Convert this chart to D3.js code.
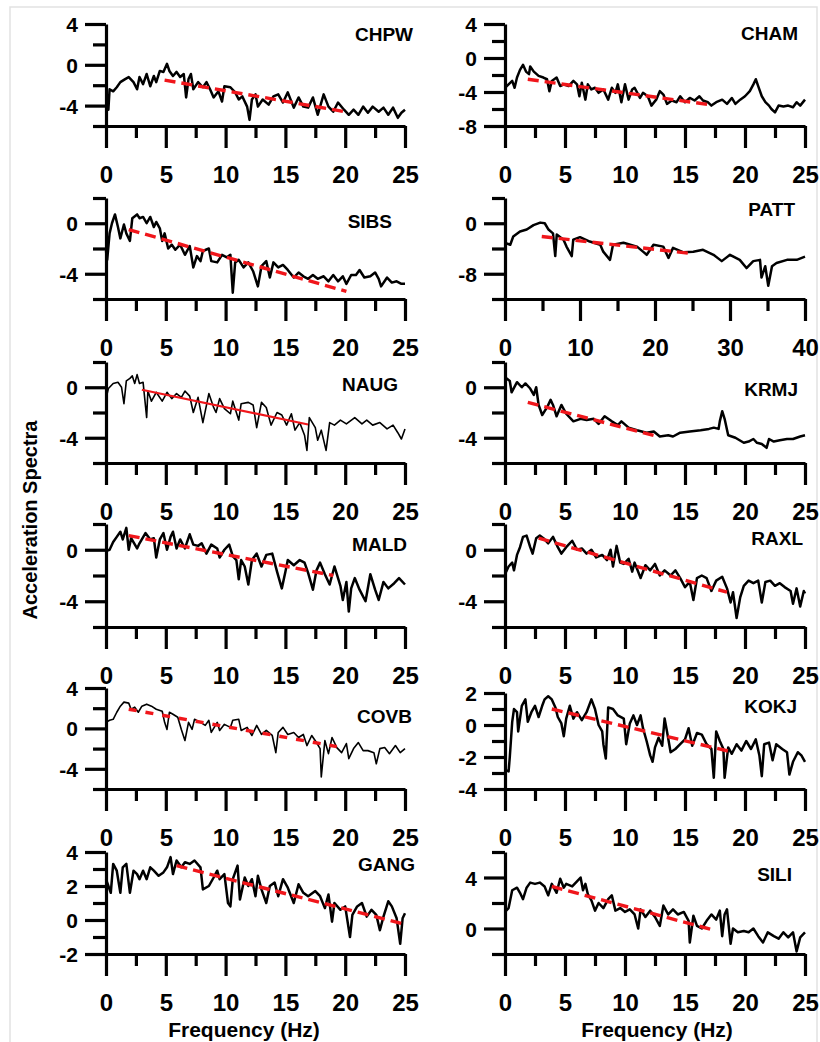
<!DOCTYPE html>
<html>
<head>
<meta charset="utf-8">
<script src="https://cdn.jsdelivr.net/npm/d3@7"></script>
<style>
  body { margin: 0; background: #fff; }
  svg text { font-family: "Liberation Sans", Arial, sans-serif; font-weight: bold; fill: #000; }
</style>
</head>
<body>
<div id="chart"></div>
<script>
// station order: left column then right column, row by row
const stations = ['CHPW', 'CHAM', 'SIBS', 'PATT', 'NAUG', 'KRMJ', 'MALD', 'RAXL', 'COVB', 'KOKJ', 'GANG', 'SILI'];

// spectra: [frequency Hz, log amplitude]
const CHPW = [[0,-3.9],[0.2,-4.4],[0.3,-2.4],[0.6,-2.6],[0.9,-2.2],[1.2,-1.7],[1.6,-1.4],[1.9,-1.2],[2.3,-1.7],[2.6,-2.4],[2.8,-1.2],[3.1,-1.9],[3.4,-0.9],[3.7,-2.1],[4.0,-1.1],[4.2,-1.7],[4.5,-0.6],[4.8,-0.7],[5.1,0.1],[5.3,-0.6],[5.6,-1.1],[5.9,-0.7],[6.2,-1.2],[6.5,-0.9],[6.7,-3.2],[6.9,-1.4],[7.1,-0.9],[7.3,-2.4],[7.7,-1.7],[8.1,-2.2],[8.4,-1.7],[8.7,-2.4],[9.0,-3.2],[9.4,-2.6],[9.7,-3.6],[9.9,-2.1],[10.4,-2.2],[10.8,-2.7],[11.1,-3.4],[11.4,-3.1],[11.8,-4.1],[12.0,-5.4],[12.2,-3.4],[12.5,-2.9],[12.7,-4.1],[13.1,-3.4],[13.6,-3.9],[14.0,-3.1],[14.4,-2.9],[14.8,-3.7],[15.2,-2.7],[15.7,-4.2],[16.1,-3.2],[16.5,-4.1],[16.9,-4.2],[17.3,-3.2],[17.7,-4.9],[18.2,-2.9],[18.6,-4.1],[19.0,-4.6],[19.4,-3.7],[19.9,-4.4],[20.3,-4.9],[20.7,-4.4],[21.1,-4.9],[21.5,-4.1],[21.9,-4.7],[22.3,-4.1],[22.8,-4.6],[23.2,-4.2],[23.6,-4.9],[24.0,-4.2],[24.4,-5.2],[24.7,-4.7],[25,-4.4]];
const CHAM = [[0,-3.5],[0.3,-3.1],[0.6,-2.7],[0.8,-3.5],[1.0,-2.3],[1.25,-1.4],[1.5,-0.8],[1.75,-1.6],[2.0,-1.9],[2.1,-1.0],[2.4,-1.6],[2.8,-2.1],[3.2,-2.3],[3.5,-2.5],[3.7,-3.9],[3.9,-2.7],[4.3,-2.3],[4.6,-3.3],[4.9,-3.1],[5.3,-3.3],[5.7,-2.7],[6.0,-3.1],[6.2,-4.5],[6.4,-2.9],[6.7,-4.9],[6.9,-3.1],[7.2,-3.7],[7.5,-3.5],[7.8,-4.1],[8.2,-3.7],[8.6,-4.9],[8.9,-3.5],[9.2,-4.1],[9.4,-3.1],[9.7,-5.2],[10.0,-3.1],[10.3,-4.9],[10.6,-3.7],[10.8,-3.5],[11.25,-4.7],[11.5,-4.1],[11.9,-4.5],[12.2,-5.6],[12.6,-4.9],[12.9,-3.9],[13.2,-4.3],[13.5,-5.4],[13.9,-5.0],[14.3,-5.2],[14.6,-4.5],[15.0,-5.2],[15.4,-4.7],[15.8,-5.0],[16.2,-4.5],[16.5,-5.0],[16.9,-5.2],[17.2,-5.6],[17.6,-5.2],[18.1,-4.9],[18.5,-5.4],[18.9,-4.7],[19.2,-5.4],[19.6,-4.9],[20.0,-4.5],[20.4,-3.9],[20.7,-3.1],[20.9,-2.5],[21.1,-3.3],[21.4,-4.5],[21.7,-5.2],[22.0,-5.6],[22.2,-6.0],[22.5,-6.4],[22.8,-5.6],[23.2,-5.7],[23.6,-5.6],[24.0,-5.8],[24.3,-5.2],[24.6,-5.6],[25,-4.9]];
const SIBS = [[0,-2.2],[0.1,-2.9],[0.3,-0.8],[0.5,0],[0.75,0.7],[1.0,-0.3],[1.2,-1.2],[1.5,-0.1],[1.7,-0.8],[2.0,-1.4],[2.2,0.4],[2.6,0.7],[2.8,0.4],[3.1,0.5],[3.4,0],[3.7,0.5],[4.0,-0.3],[4.2,0.1],[4.5,-0.4],[4.7,-1.4],[4.9,-0.8],[5.2,-2.0],[5.5,-1.7],[5.8,-2.1],[6.2,-1.7],[6.6,-2.5],[7.0,-1.8],[7.3,-3.5],[7.6,-2.6],[7.9,-3.0],[8.1,-2.2],[8.6,-2.0],[8.8,-3.0],[9.3,-3.1],[9.7,-2.5],[10.1,-2.7],[10.4,-2.5],[10.6,-5.5],[10.8,-3.1],[11.1,-2.9],[11.5,-3.5],[11.9,-3.1],[12.3,-3.8],[12.7,-5.0],[13.0,-3.4],[13.4,-3.0],[13.7,-4.3],[14.0,-3.1],[14.4,-3.5],[14.8,-3.3],[15.2,-3.7],[15.7,-4.3],[16.1,-3.9],[16.5,-4.2],[16.9,-4.4],[17.3,-4.1],[17.7,-4.4],[18.2,-4.2],[18.6,-4.6],[19.0,-4.1],[19.4,-4.6],[19.8,-4.2],[20.1,-4.8],[20.5,-4.1],[20.9,-4.1],[21.2,-3.7],[21.6,-4.3],[22.1,-4.2],[22.5,-3.9],[22.8,-4.4],[23.0,-5.0],[23.5,-4.3],[23.9,-4.7],[24.3,-4.6],[24.7,-4.8],[25,-4.8]];
const PATT = [[0,-3.1],[0.7,-3.4],[1.1,-2.1],[2,-1.3],[2.9,-1.0],[3.8,-0.3],[4.7,0.1],[5.3,0],[5.8,-1.0],[6.4,-1.6],[6.7,-5.2],[6.9,-1.8],[7.8,-2.6],[8.2,-3.7],[8.9,-5.2],[9.1,-2.6],[10,-2.2],[11.3,-2.9],[12.7,-3.4],[13.1,-4.5],[14,-5.8],[14.4,-3.4],[15.8,-3.1],[17.6,-3.7],[18.4,-4.5],[18.9,-5.0],[19.8,-3.4],[21.1,-3.7],[21.8,-5.5],[22.4,-3.9],[23.8,-4.6],[25.1,-4.5],[26.4,-4.2],[27.8,-5.0],[28.9,-6.0],[30,-5.0],[31.3,-5.8],[32.2,-7.1],[33.1,-6.0],[34,-5.8],[34.2,-8.6],[34.7,-6.8],[35.1,-9.9],[35.6,-6.8],[36.2,-6.3],[37.6,-5.8],[38.9,-5.8],[40,-5.3]];
const NAUG = [[0,-0.9],[0.2,-0.1],[0.6,0.3],[1.0,0.4],[1.3,0],[1.5,-1.3],[1.7,0.5],[2.0,0.7],[2.2,0.9],[2.4,0.3],[2.6,1.0],[2.8,0.3],[3.1,0.4],[3.4,-2.4],[3.5,-0.3],[3.8,-1.1],[4.2,-0.4],[4.7,-1.1],[5.1,-0.4],[5.5,-0.9],[5.9,-0.5],[6.3,-0.8],[6.6,-0.3],[7.0,-0.7],[7.3,-2.0],[7.7,-0.8],[8.1,-2.8],[8.6,-0.5],[9.0,-1.6],[9.2,-2.0],[9.5,-0.9],[9.9,-1.7],[10.4,-2.1],[10.6,-1.1],[11.1,-2.6],[11.3,-1.3],[11.9,-1.2],[12.3,-1.4],[12.6,-3.2],[13.0,-1.2],[13.4,-1.6],[13.8,-3.0],[14.3,-2.0],[14.7,-2.2],[15.1,-3.0],[15.5,-2.1],[15.8,-3.4],[16.2,-2.8],[16.6,-3.8],[16.8,-5.0],[17.0,-2.4],[17.5,-3.2],[17.7,-4.2],[18.0,-3.4],[18.4,-5.0],[18.7,-2.8],[19.1,-3.0],[19.6,-2.6],[20.1,-2.9],[20.8,-2.4],[21.4,-2.9],[21.8,-2.6],[22.3,-3.0],[22.9,-2.8],[23.5,-3.3],[24.0,-3.0],[24.4,-3.6],[24.7,-4.1],[25,-3.3]];
const KRMJ = [[0,0.8],[0.4,0.5],[0.55,-0.4],[1.0,0.4],[1.4,0],[1.7,0.3],[2.1,-0.1],[2.4,-0.6],[2.6,0],[2.8,-1.4],[3.1,-2.2],[3.5,-1.6],[3.8,-1.0],[4.0,-1.4],[4.3,-2.3],[4.7,-1.4],[5.1,-2.1],[5.7,-2.7],[6.3,-2.5],[6.8,-2.6],[7.4,-2.5],[7.8,-2.9],[8.3,-2.3],[8.9,-2.7],[9.4,-3.0],[9.7,-2.7],[10.3,-3.2],[11.0,-3.4],[11.8,-3.6],[12.4,-3.5],[12.9,-3.9],[13.6,-3.8],[14.0,-3.9],[14.6,-3.6],[15.4,-3.5],[16.3,-3.4],[17.0,-3.3],[17.4,-3.2],[17.8,-3.3],[17.9,-2.7],[18.1,-1.9],[18.3,-2.5],[18.6,-3.8],[19.2,-4.0],[19.9,-4.4],[20.3,-4.3],[20.7,-4.1],[21.0,-4.4],[21.4,-4.5],[21.8,-4.8],[22.0,-4.1],[22.4,-4.3],[22.9,-4.2],[23.5,-4.1],[24.0,-4.1],[24.6,-3.9],[25,-3.8]];
const MALD = [[0,-0.1],[0.3,0],[0.6,0.6],[0.9,1.0],[1.2,1.4],[1.4,0.8],[1.7,1.7],[1.9,0],[2.1,0.9],[2.6,0.1],[2.8,0.5],[3.3,1.3],[3.7,0.8],[4.0,0.9],[4.2,-0.6],[4.5,0.8],[4.8,1.3],[5.1,0],[5.4,1.0],[5.6,1.4],[5.9,0.1],[6.2,0.8],[6.6,0.1],[7.0,1.2],[7.3,0.4],[7.7,0.3],[8.0,0.5],[8.4,-0.3],[8.8,0.4],[9.3,0.1],[9.5,-0.6],[9.9,0],[10.3,0.4],[10.6,-0.5],[10.9,-0.8],[11.1,-2.3],[11.3,-0.8],[11.6,-1.3],[11.9,-2.7],[12.2,-0.8],[12.6,-0.3],[13.0,-1.3],[13.4,-0.4],[13.9,-0.3],[14.3,-1.7],[14.7,-3.0],[15.0,-1.7],[15.2,-0.8],[15.7,-1.2],[16.2,-0.8],[16.6,-1.0],[16.9,-1.8],[17.3,-3.1],[17.6,-1.6],[17.9,-1.0],[18.3,-1.9],[18.7,-2.7],[19.1,-1.3],[19.6,-2.8],[19.8,-3.9],[20.1,-2.5],[20.3,-4.8],[20.5,-3.0],[20.8,-2.2],[21.2,-3.1],[21.7,-4.0],[22.1,-1.9],[22.5,-3.1],[22.8,-3.9],[23.2,-2.5],[23.6,-3.0],[24.1,-2.6],[24.5,-2.2],[25,-2.7]];
const RAXL = [[0,-1.9],[0.3,-1.3],[0.6,-1.0],[0.75,-1.6],[1.0,-0.4],[1.25,0.2],[1.5,1.0],[1.8,1.1],[2.1,0.2],[2.3,-0.3],[2.6,0.9],[2.9,1.1],[3.2,0.9],[3.6,0.5],[4.0,1.0],[4.4,0.2],[4.7,-0.3],[5.1,0.2],[5.6,0.7],[6.0,0],[6.4,0.1],[6.8,-0.3],[7.2,0],[7.6,-0.6],[8.1,-0.4],[8.5,-0.8],[8.8,0],[9.0,-1.3],[9.3,0.3],[9.6,-1.0],[9.9,-1.1],[10.3,-0.7],[10.6,-1.7],[10.8,-1.0],[11.3,-2.2],[11.7,-1.2],[12.1,-1.6],[12.5,-1.1],[12.9,-2.0],[13.3,-1.6],[13.8,-2.0],[14.2,-1.6],[14.6,-2.2],[15.0,-2.9],[15.4,-2.5],[15.7,-3.9],[16.0,-2.2],[16.4,-2.0],[16.8,-2.2],[17.2,-3.2],[17.6,-2.4],[18.1,-2.1],[18.5,-3.0],[18.8,-4.1],[19.0,-3.3],[19.3,-5.3],[19.6,-3.7],[19.9,-2.8],[20.3,-2.4],[20.7,-2.6],[21.1,-2.4],[21.4,-4.1],[21.7,-2.5],[22.1,-2.4],[22.5,-2.8],[22.9,-2.6],[23.3,-2.9],[23.8,-3.2],[24.0,-4.2],[24.3,-3.0],[24.6,-4.4],[24.9,-3.2],[25,-3.4]];
const COVB = [[0,0.6],[0.3,0.8],[0.6,0.9],[0.9,1.6],[1.2,2.2],[1.5,2.6],[1.9,2.5],[2.1,1.9],[2.4,2.1],[2.7,1.6],[3.0,2.2],[3.4,2.4],[3.8,2.2],[4.2,1.9],[4.7,1.7],[4.9,0.6],[5.1,-0.1],[5.3,1.6],[5.6,1.4],[6.0,1.1],[6.3,-0.1],[6.6,-1.2],[6.9,0.6],[7.2,-0.1],[7.4,0.9],[7.9,0.6],[8.3,0.3],[8.6,0.8],[8.8,-0.4],[9.3,0.6],[9.5,-0.2],[9.9,0.4],[10.4,0.1],[10.6,0.8],[11.1,0.9],[11.3,-0.2],[11.8,0.1],[12.2,-0.7],[12.6,0.3],[13.0,-0.6],[13.4,-0.2],[13.9,-0.7],[14.2,-2.4],[14.4,-0.4],[14.8,0.1],[15.2,-0.6],[15.7,-0.4],[16.1,-0.9],[16.5,-0.6],[16.8,-1.7],[17.2,-0.7],[17.6,-1.4],[17.9,-2.0],[18.0,-4.8],[18.3,-1.2],[18.6,-2.5],[18.9,-0.9],[19.3,-1.9],[19.7,-2.4],[20.1,-1.5],[20.3,-3.0],[20.7,-2.0],[21.1,-1.4],[21.5,-2.2],[21.9,-2.2],[22.4,-2.4],[22.6,-3.5],[22.9,-2.0],[23.3,-1.9],[23.7,-2.5],[24.2,-1.7],[24.6,-2.4],[25,-2.0]];
const KOKJ = [[0,-2.8],[0.3,-2.9],[0.4,-2.0],[0.6,0.2],[0.75,1.0],[1.0,0.8],[1.1,-0.4],[1.4,1.2],[1.7,1.6],[1.9,0.2],[2.2,0.8],[2.5,1.2],[2.8,0.5],[3.1,1.2],[3.3,1.6],[3.6,1.8],[3.9,1.6],[4.2,1.1],[4.4,0.5],[4.7,0.1],[4.9,-0.7],[5.1,0.4],[5.4,1.2],[5.7,0.4],[6.0,0.8],[6.4,0.3],[6.8,0.8],[7.2,1.6],[7.5,1.0],[7.8,0],[8.1,-0.4],[8.2,-1.2],[8.4,-2.1],[8.6,1.1],[9.0,1.0],[9.4,0.6],[9.9,0.4],[10.1,-1.2],[10.4,0.1],[10.7,0.6],[11.0,0],[11.3,0.6],[11.5,-0.2],[11.8,-1.0],[12.1,-1.9],[12.3,-2.3],[12.5,-1.4],[12.8,-0.8],[13.1,-1.3],[13.3,0.4],[13.5,-0.4],[13.8,-1.7],[14.2,-1.5],[14.6,-1.2],[15.0,-0.9],[15.3,-0.2],[15.6,-1.3],[16.0,-0.5],[16.4,-0.6],[16.8,-1.2],[17.2,-1.5],[17.4,-3.3],[17.6,-0.4],[17.9,-1.0],[18.2,-1.5],[18.3,-3.3],[18.6,-1.4],[18.9,-1.8],[19.3,-1.2],[19.7,-1.6],[20.1,-1.0],[20.5,-1.5],[20.9,-0.9],[21.2,-1.9],[21.4,-3.2],[21.6,-1.2],[22.0,-1.1],[22.3,-2.2],[22.6,-1.2],[23.1,-1.5],[23.5,-1.7],[23.7,-3.1],[24.0,-2.3],[24.4,-1.7],[24.7,-1.9],[25,-2.3]];
const GANG = [[0,2.4],[0.2,2.0],[0.4,1.6],[0.6,3.3],[0.9,2.9],[1.2,1.6],[1.4,3.1],[1.7,3.3],[2.0,1.6],[2.3,2.9],[2.6,2.7],[2.8,2.4],[3.1,2.9],[3.4,2.4],[3.7,3.1],[4.0,2.9],[4.4,2.6],[4.8,2.8],[5.1,3.1],[5.4,3.7],[5.6,2.7],[5.9,3.5],[6.3,3.1],[6.6,3.4],[7.0,3.3],[7.4,3.5],[7.9,3.1],[8.1,1.8],[8.6,2.0],[9.0,2.5],[9.3,2.9],[9.5,2.4],[9.9,2.7],[10.2,1.0],[10.4,0.8],[10.6,2.4],[11.0,3.2],[11.2,1.2],[11.6,2.5],[11.9,2.0],[12.2,2.4],[12.5,1.4],[12.7,2.6],[13.0,1.8],[13.4,1.0],[13.7,2.0],[14.1,2.2],[14.4,1.4],[14.8,2.4],[15.2,1.9],[15.7,1.0],[16.1,2.1],[16.5,1.6],[16.9,1.4],[17.5,1.7],[17.9,1.4],[18.3,0.7],[18.6,1.5],[18.9,-0.1],[19.1,1.0],[19.6,0.6],[20.0,0.8],[20.4,-1.0],[20.6,0.3],[21.0,0.8],[21.4,1.0],[21.8,0.2],[22.2,0.6],[22.6,0.3],[22.9,-0.6],[23.2,0.2],[23.6,1.1],[23.9,0.8],[24.3,0.1],[24.6,-1.4],[24.8,0.1],[25,0.4]];
const SILI = [[0,1.3],[0.3,1.6],[0.6,3.0],[1.0,3.2],[1.25,2.8],[1.5,2.3],[1.8,3.2],[2.1,3.6],[2.5,3.5],[2.9,3.6],[3.3,3.3],[3.6,2.6],[3.9,3.5],[4.3,2.8],[4.6,3.9],[4.9,3.2],[5.1,3.5],[5.6,3.3],[6.0,3.7],[6.3,4.0],[6.5,3.0],[6.7,3.5],[6.9,2.7],[7.2,2.2],[7.5,1.4],[7.8,2.0],[8.2,1.6],[8.6,2.3],[8.9,2.6],[9.2,1.4],[9.6,1.6],[10.0,1.3],[10.4,1.5],[10.8,1.1],[11.1,0],[11.3,1.5],[11.7,0.9],[12.1,1.4],[12.5,0.9],[12.9,0.2],[13.2,1.8],[13.6,1.1],[14.0,1.5],[14.4,1.1],[14.9,1.3],[15.3,0.6],[15.4,-1.1],[15.7,1.0],[16.0,0.2],[16.4,0],[16.8,0.6],[17.2,1.1],[17.6,0.7],[17.9,1.4],[18.1,-0.6],[18.3,1.1],[18.5,1.5],[18.8,-1.2],[19.0,0],[19.4,-0.3],[19.9,-0.2],[20.3,-0.3],[20.7,0],[21.1,-0.6],[21.5,-1.1],[21.9,-0.3],[22.4,-0.6],[22.8,-0.8],[23.2,-0.3],[23.6,-0.7],[24.0,-0.3],[24.3,-1.8],[24.6,-0.7],[24.9,-0.4],[25,-0.3]];

// fitted decay lines (red): [start, end]
const trendCHPW = [[4.9,-1.5],[20,-4.6]];
const trendCHAM = [[1.9,-2.5],[17.1,-5.5]];
const trendSIBS = [[1.9,-0.5],[20.1,-5.4]];
const trendPATT = [[4.9,-2.1],[24.9,-4.8]];
const trendNAUG = [[3.0,-0.2],[16.9,-2.95]];
const trendKRMJ = [[1.9,-1.2],[12.5,-3.85]];
const trendMALD = [[1.9,1.1],[19.0,-2.0]];
const trendRAXL = [[2.8,0.9],[18.5,-3.3]];
const trendCOVB = [[1.9,1.9],[19.3,-1.8]];
const trendKOKJ = [[3.9,1.0],[19.0,-1.7]];
const trendGANG = [[5.9,3.2],[24.7,-0.2]];
const trendSILI = [[3.9,3.3],[17.1,-0.05]];

// axis ranges and tick values
const xMax = { PATT: 40 };
const xMajorTicks = [0, 5, 10, 15, 20, 25];
const xMinorTicks = [2.5, 7.5, 12.5, 17.5, 22.5];
const xMajorTicksPATT = [0, 10, 20, 30, 40];
const xMinorTicksPATT = [5, 15, 25, 35];

const yDomain = {
  CHPW: [-6, 4], CHAM: [-8, 4], SIBS: [-6, 2], PATT: [-12, 4],
  NAUG: [-6, 2], KRMJ: [-6, 2], MALD: [-6, 2], RAXL: [-6, 2],
  COVB: [-6, 4], KOKJ: [-4, 2], GANG: [-2, 4], SILI: [-2, 6]
};
const yLabelTicks = {
  CHPW: [4, 0, -4], CHAM: [4, 0, -4, -8], SIBS: [0, -4], PATT: [0, -8],
  NAUG: [0, -4], KRMJ: [0, -4], MALD: [0, -4], RAXL: [0, -4],
  COVB: [4, 0, -4], KOKJ: [2, 0, -2, -4], GANG: [4, 2, 0, -2], SILI: [4, 0]
};
const yMinorTicks = {
  CHPW: [2, -2, -6], CHAM: [2, -2, -6], SIBS: [2, -2, -6], PATT: [4, -4, -12],
  NAUG: [2, -2, -6], KRMJ: [2, -2, -6], MALD: [2, -2, -6], RAXL: [2, -2, -6],
  COVB: [2, -2, -6], KOKJ: [1, -1, -3], GANG: [3, 1, -1], SILI: [6, 2, -2]
};

const spectra = { CHPW, CHAM, SIBS, PATT, NAUG, KRMJ, MALD, RAXL, COVB, KOKJ, GANG, SILI };
const trends = {
  CHPW: trendCHPW, CHAM: trendCHAM, SIBS: trendSIBS, PATT: trendPATT,
  NAUG: trendNAUG, KRMJ: trendKRMJ, MALD: trendMALD, RAXL: trendRAXL,
  COVB: trendCOVB, KOKJ: trendKOKJ, GANG: trendGANG, SILI: trendSILI
};

// pixel layout of each panel (plot area: x from 0 to max, y top to bottom value)
const colX = [[106, 405], [505, 805]];
const panelY = {
  CHPW: [24, 126], CHAM: [24, 126],
  SIBS: [198, 299], PATT: [198, 299],
  NAUG: [362, 463], KRMJ: [362, 463],
  MALD: [524, 627], RAXL: [524, 627],
  COVB: [688, 789], KOKJ: [693, 789],
  GANG: [852, 954], SILI: [852, 954]
};
const namePos = {
  CHPW: [413, 34], CHAM: [798, 33], SIBS: [392, 221], PATT: [795, 209],
  NAUG: [398, 384], KRMJ: [798, 389], MALD: [407, 544], RAXL: [803, 538],
  COVB: [412, 716], KOKJ: [797, 706], GANG: [415, 864], SILI: [792, 874]
};
const thinLine = { NAUG: true, COVB: true };

const width = 820, height = 1042;
const svg = d3.select('#chart').append('svg')
  .attr('width', width)
  .attr('height', height);

svg.append('rect')
  .attr('x', 10).attr('y', 7)
  .attr('width', 807).attr('height', 1045)
  .attr('fill', 'none')
  .attr('stroke', '#e2e2e2')
  .attr('stroke-width', 1.5);

function styleAxis(sel) {
  sel.attr('font-size', null).attr('font-family', null);
  sel.selectAll('path.domain').attr('stroke', '#000').attr('stroke-width', 3.2);
  sel.selectAll('.tick line').attr('stroke', '#000').attr('stroke-width', 3.2);
}

stations.forEach((name, i) => {
  const col = i % 2;
  const [x0, x1] = colX[col];
  const [top, bottom] = panelY[name];
  const isPatt = name === 'PATT';

  const x = d3.scaleLinear().domain([0, xMax[name] || 25]).range([x0, x1]);
  const y = d3.scaleLinear().domain(yDomain[name]).range([bottom, top]);

  const g = svg.append('g');

  // x axis, major + minor ticks
  const xMajor = g.append('g')
    .attr('transform', `translate(0,${bottom})`)
    .call(d3.axisBottom(x)
      .tickValues(isPatt ? xMajorTicksPATT : xMajorTicks)
      .tickSize(22).tickSizeOuter(0)
      .tickFormat(d => String(d)));
  styleAxis(xMajor);
  xMajor.selectAll('text')
    .attr('y', 49).attr('dy', '0.35em')
    .attr('font-size', 24);

  const xMinor = g.append('g')
    .attr('transform', `translate(0,${bottom})`)
    .call(d3.axisBottom(x)
      .tickValues(isPatt ? xMinorTicksPATT : xMinorTicks)
      .tickSize(12).tickSizeOuter(0)
      .tickFormat(''));
  styleAxis(xMinor);
  xMinor.select('path.domain').remove();

  // y axis, labelled + minor ticks
  const yMajor = g.append('g')
    .attr('transform', `translate(${x0},0)`)
    .call(d3.axisLeft(y)
      .tickValues(yLabelTicks[name])
      .tickSize(21).tickSizeOuter(0)
      .tickFormat(d => String(d)));
  styleAxis(yMajor);
  yMajor.selectAll('text')
    .attr('x', -28).attr('dy', '0.36em')
    .attr('font-size', 21);

  const yMinor = g.append('g')
    .attr('transform', `translate(${x0},0)`)
    .call(d3.axisLeft(y)
      .tickValues(yMinorTicks[name])
      .tickSize(13).tickSizeOuter(0)
      .tickFormat(''));
  styleAxis(yMinor);
  yMinor.select('path.domain').remove();

  // spectrum
  const line = d3.line()
    .x(d => x(d[0]))
    .y(d => y(d[1]));

  g.append('path')
    .datum(spectra[name])
    .attr('fill', 'none')
    .attr('stroke', '#000')
    .attr('stroke-width', thinLine[name] ? 1.6 : 2.5)
    .attr('stroke-linejoin', 'round')
    .attr('d', line);

  // fitted line
  const fit = g.append('path')
    .datum(trends[name])
    .attr('fill', 'none')
    .attr('stroke', '#f0161b')
    .attr('d', line);
  if (name === 'NAUG') {
    fit.attr('stroke-width', 2.2);
  } else {
    fit.attr('stroke-width', 3.4)
      .attr('stroke-dasharray', name === 'COVB' ? '8,9' : '11,6');
  }

  // station code
  g.append('text')
    .attr('x', namePos[name][0])
    .attr('y', namePos[name][1])
    .attr('dy', '0.35em')
    .attr('text-anchor', 'end')
    .attr('font-size', 19)
    .text(name);
});

svg.append('text')
  .attr('transform', 'translate(30,520) rotate(-90)')
  .attr('text-anchor', 'middle')
  .attr('dy', '0.35em')
  .attr('font-size', 20)
  .text('Acceleration Spectra');

[244, 657].forEach(cx => {
  svg.append('text')
    .attr('x', cx)
    .attr('y', 1030)
    .attr('dy', '0.35em')
    .attr('text-anchor', 'middle')
    .attr('font-size', 21)
    .text('Frequency (Hz)');
});
</script>
</body>
</html>
